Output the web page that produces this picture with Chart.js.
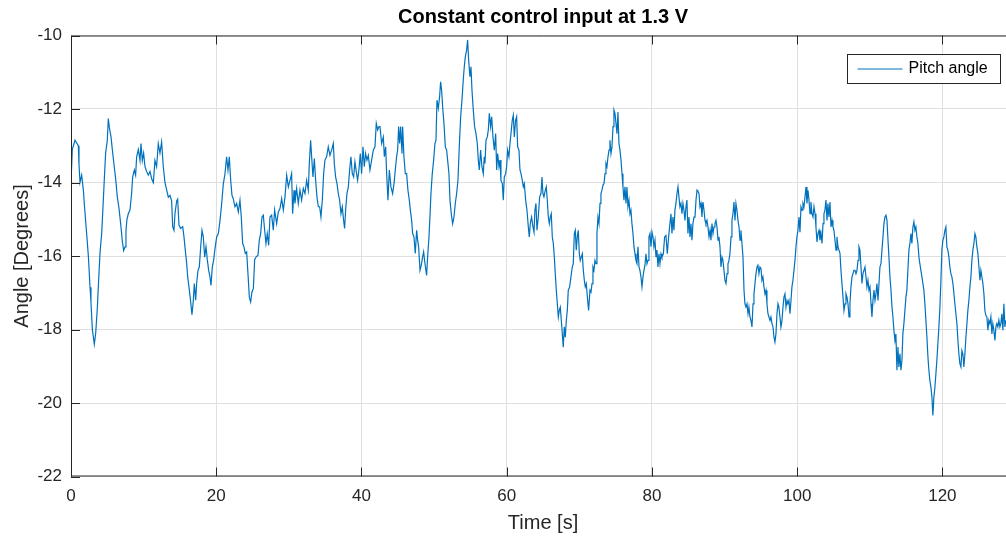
<!DOCTYPE html>
<html>
<head>
<meta charset="utf-8">
<script src="https://cdn.jsdelivr.net/npm/chart.js@4.4.1/dist/chart.umd.min.js"></script>
<style>
  html, body { margin: 0; padding: 0; overflow: hidden; background: #ffffff; }
  #wrap { position: absolute; left: 0; top: 0; width: 1030px; height: 543px; }
</style>
</head>
<body>
<div id="wrap"><canvas id="chart" width="1030" height="543"></canvas></div>
<script>
// Pitch angle log, constant 1.3 V control input
const timeS = [
  0.0,0.18,0.55,1.01,1.1,1.24,1.47,1.7,1.84,2.16,
  2.39,2.62,2.75,2.94,3.21,3.4,3.63,3.76,4.0,4.22,
  4.36,4.59,4.77,5.0,5.14,5.28,5.51,5.69,5.97,6.15,
  6.38,6.61,6.88,7.07,7.25,7.44,7.57,7.71,7.89,8.12,
  8.35,8.49,8.72,8.9,9.04,9.27,9.5,9.64,9.82,10.0,
  10.19,10.42,10.65,10.88,11.11,11.34,11.56,11.79,12.02,12.25,
  12.48,12.71,12.94,13.17,13.4,
  13.63,13.86,14.0,14.18,14.32,14.55,14.69,14.87,15.1,15.38,
  15.56,15.74,15.93,16.07,16.3,16.48,16.66,16.85,16.98,17.17,
  17.3,17.49,17.67,17.86,18.04,18.22,18.41,18.59,18.77,18.96,
  19.14,19.28,19.46,19.65,19.83,20.06,20.29,20.52,20.75,20.98,
  21.21,21.43,21.62,21.8,21.99,22.17,22.35,22.58,22.81,23.04,
  23.27,23.45,23.64,23.82,24.0,24.19,24.37,24.56,24.74,24.92,
  25.11,25.29,25.47,25.75,25.93,26.12,26.3,26.48,26.67,26.85,
  27.03,27.22,27.4,27.63,27.86,28.04,
  28.32,28.55,28.78,29.01,29.24,29.47,29.70,29.93,30.16,30.38,
  30.52,30.71,30.84,31.07,31.3,31.53,31.76,31.99,32.22,32.45,
  32.68,32.82,33.0,33.14,33.32,33.51,33.69,33.87,34.06,34.24,
  34.42,34.61,34.79,34.97,35.2,35.43,35.66,35.89,36.12,36.26,
  36.44,36.63,36.81,36.99,37.18,37.36,37.54,37.68,37.82,38.0,
  38.19,38.37,38.55,38.74,38.92,39.1,39.29,39.47,39.65,39.84,
  40.02,40.21,40.39,40.57,40.76,40.94,41.17,41.4,41.63,41.86,
  42.04,42.23,42.41,
  42.55,42.78,43.01,43.15,43.33,43.47,43.65,43.84,44.06,44.29,
  44.48,44.66,44.84,44.98,45.12,45.26,45.4,45.58,45.67,45.85,
  46.04,46.22,46.4,46.59,46.73,46.91,47.05,47.23,47.41,47.6,
  47.74,47.87,48.06,48.24,48.42,48.56,48.75,48.97,49.11,49.3,
  49.43,49.57,49.75,49.94,50.12,50.26,50.4,50.58,50.76,50.9,
  51.04,51.18,51.36,51.55,51.73,51.91,52.05,52.19,52.37,52.55,
  52.74,52.92,53.11,53.29,53.47,53.66,53.84,54.02,54.16,54.3,
  54.48,54.62,54.76,54.94,55.08,55.22,55.4,55.58,55.77,55.95,
  56.09,56.23,56.41,56.59,56.78,56.91,
  57.01,57.15,57.33,57.47,57.61,57.79,57.93,58.11,58.3,58.48,
  58.62,58.75,58.94,59.08,59.21,59.4,59.53,59.67,59.86,59.99,
  60.13,60.31,60.45,60.59,60.77,60.91,61.05,61.23,61.37,61.51,
  61.69,61.83,61.97,62.15,62.29,62.43,62.61,62.79,62.98,63.11,
  63.25,63.43,63.62,63.76,63.89,64.03,64.17,64.35,64.54,64.72,
  64.86,64.99,65.13,65.32,65.45,65.59,65.73,65.87,66.0,66.14,
  66.28,66.42,66.56,66.69,66.83,66.97,67.11,67.24,67.38,67.52,
  67.66,67.79,67.93,68.07,68.21,68.35,68.48,68.67,68.85,69.03,
  69.17,69.31,69.45,69.58,69.72,69.86,70.0,70.13,70.27,70.41,
  70.55,70.69,70.82,70.96,71.15,71.28,
  71.47,71.61,71.75,71.88,72.02,72.16,72.3,72.43,72.57,72.71,
  72.85,72.98,73.12,73.26,73.4,73.54,73.67,73.81,73.95,74.09,
  74.22,74.36,74.5,74.64,74.77,74.91,75.05,75.19,75.32,75.46,
  75.6,75.74,75.88,76.01,76.15,76.29,76.43,76.56,76.7,76.84,
  76.98,77.11,77.25,77.39,77.53,77.67,77.8,77.94,78.08,78.22,
  78.35,78.49,78.63,78.77,78.9,79.04,79.18,79.32,79.46,79.59,
  79.73,79.87,80.01,80.14,80.28,80.42,80.56,80.69,80.83,80.97,
  81.11,81.25,81.38,81.57,81.75,81.93,82.12,82.3,82.48,82.62,
  82.76,82.9,83.03,83.17,83.31,83.45,83.59,83.72,83.86,84.0,
  84.14,84.27,84.41,84.55,84.69,84.82,84.96,85.1,85.24,85.38,
  85.51,85.65,85.79,
  85.93,86.07,86.21,86.34,86.48,86.62,86.76,86.89,87.03,87.17,
  87.31,87.44,87.58,87.72,87.86,88.0,88.13,88.27,88.41,88.55,
  88.68,88.82,88.96,89.1,89.23,89.37,89.51,89.65,89.78,89.92,
  90.06,90.2,90.34,90.47,90.61,90.75,90.89,91.02,91.16,91.3,
  91.44,91.57,91.71,91.85,91.99,92.13,92.26,92.4,92.54,92.68,
  92.81,92.95,93.09,93.23,93.36,93.5,93.64,93.78,93.92,94.05,
  94.19,94.33,94.47,94.6,94.74,94.88,95.02,95.15,95.29,95.43,
  95.57,95.71,95.84,95.98,96.12,96.26,96.39,96.53,96.67,96.81,
  96.94,97.08,97.22,97.36,97.49,97.63,97.77,97.91,98.05,98.18,
  98.32,98.46,98.6,98.73,98.87,99.01,99.15,99.28,99.42,99.56,
  99.7,99.84,99.97,100.11,100.25,
  100.39,100.53,100.67,100.8,100.94,101.08,101.22,101.35,101.49,101.63,
  101.77,101.9,102.04,102.18,102.32,102.46,102.59,102.73,102.87,103.01,
  103.14,103.28,103.42,103.56,103.69,103.83,103.97,104.11,104.24,104.38,
  104.52,104.66,104.8,104.93,105.07,105.21,105.35,105.48,105.62,105.76,
  105.9,106.03,106.17,106.31,106.45,106.59,106.72,106.86,107.0,107.14,
  107.27,107.41,107.55,107.69,107.82,107.96,108.1,108.24,108.38,108.51,
  108.65,108.79,108.93,109.06,109.2,109.34,109.48,109.61,109.75,109.89,
  110.03,110.17,110.3,110.44,110.58,110.72,110.85,110.99,111.13,111.27,
  111.4,111.54,111.68,111.82,111.95,112.09,112.23,112.37,112.51,112.64,
  112.78,112.92,113.06,113.19,113.33,113.47,
  113.6,113.74,113.88,114.01,114.15,114.29,114.43,114.56,114.7,114.84,
  114.98,115.11,115.25,115.39,115.53,115.67,115.8,115.94,116.08,116.22,
  116.35,116.49,116.63,116.77,116.9,117.04,117.18,117.32,117.45,117.59,
  117.73,117.87,118.01,118.14,118.28,118.42,118.56,118.69,118.83,118.97,
  119.11,119.24,119.38,119.52,119.66,119.8,119.93,120.07,120.21,120.35,
  120.48,120.62,120.76,120.9,121.03,121.17,121.31,121.45,121.59,121.72,
  121.86,122.0,122.14,122.27,122.41,122.55,122.69,122.82,122.96,123.1,
  123.24,123.38,123.51,123.65,123.79,123.93,124.06,124.2,124.34,124.48,
  124.61,124.75,124.89,125.03,125.17,125.3,125.44,125.58,125.72,125.85,
  125.99,126.13,126.27,126.4,126.54,126.68,126.82,126.95,127.09,127.23,
  127.37,127.5,127.64,127.78,127.92,128.06,128.19,128.33,128.47,128.61,
  128.74
];

const pitchDeg = [
  -14.0,-13.1,-12.85,-13.0,-13.5,-14.0,-13.8,-14.2,-14.6,-15.4,
  -16.0,-16.85,-17.25,-18.0,-18.4,-18.1,-17.4,-16.85,-15.9,-15.4,
  -14.85,-13.9,-13.2,-12.85,-12.26,-12.5,-12.76,-13.1,-13.6,-13.9,
  -14.4,-14.7,-15.2,-15.6,-15.85,-15.75,-15.3,-15.0,-14.85,-14.75,
  -14.3,-13.85,-13.66,-13.8,-13.3,-13.1,-13.4,-12.94,-13.4,-13.2,
  -13.57,-13.7,-13.8,-13.7,-13.9,-14.0,-13.4,-13.57,-12.94,-13.2,
  -12.9,-13.57,-14.0,-14.2,-14.4,
  -14.35,-14.5,-15.2,-15.3,-14.85,-14.5,-14.45,-15.16,-15.25,-15.2,
  -15.48,-15.84,-16.2,-16.57,-16.93,-17.25,-17.6,-17.2,-16.75,-17.2,
  -16.75,-16.39,-16.3,-15.75,-15.3,-15.48,-16.03,-15.75,-16.1,-16.39,
  -16.57,-16.8,-16.3,-16.1,-15.8,-15.48,-15.39,-15.03,-14.57,-14.03,
  -13.76,-13.3,-13.66,-13.3,-13.94,-14.35,-14.44,-14.66,-14.57,-14.8,
  -14.48,-14.94,-15.66,-15.75,-15.93,-15.89,-16.48,-17.12,-17.25,-16.98,
  -16.89,-16.1,-16.03,-15.98,-15.57,-15.39,-14.94,-14.89,-15.3,-15.66,
  -15.39,-15.71,-14.94,-14.89,-15.3,-14.75,
  -15.12,-14.8,-14.71,-14.44,-14.75,-14.39,-13.8,-14.12,-13.94,-13.76,
  -14.85,-14.21,-14.57,-14.16,-14.57,-14.21,-14.48,-14.16,-14.3,-13.94,
  -14.21,-13.48,-12.85,-13.3,-13.85,-13.35,-13.94,-14.39,-14.66,-14.66,
  -14.94,-14.48,-13.76,-13.39,-13.3,-13.03,-13.26,-13.12,-12.94,-13.48,
  -13.85,-14.03,-14.3,-14.48,-14.85,-14.66,-15.03,-15.25,-14.75,-14.3,
  -14.12,-13.66,-13.3,-13.76,-13.85,-13.44,-13.71,-13.94,-13.66,-13.21,
  -13.76,-13.03,-13.57,-13.21,-13.39,-13.26,-13.66,-13.39,-13.12,-13.03,
  -12.39,-12.57,-12.48,
  -12.48,-12.94,-12.76,-13.3,-13.03,-13.76,-14.48,-13.66,-14.12,-14.3,
  -14.03,-13.66,-13.3,-13.12,-12.48,-12.94,-12.48,-13.21,-12.48,-13.3,
  -13.76,-13.76,-14.21,-14.48,-14.75,-15.03,-15.39,-15.48,-15.93,-15.3,
  -15.57,-15.75,-16.39,-16.25,-16.03,-15.89,-16.21,-16.53,-16.03,-15.48,
  -14.94,-14.3,-13.76,-13.39,-12.94,-12.85,-11.76,-11.98,-11.67,-11.26,
  -11.49,-11.94,-12.39,-13.03,-13.12,-13.48,-13.76,-14.48,-14.85,-15.12,
  -14.94,-14.57,-14.3,-13.94,-13.03,-12.21,-11.76,-11.21,-10.85,-10.58,
  -10.4,-10.12,-10.67,-11.12,-10.85,-11.49,-12.03,-12.48,-12.67,-12.94,
  -13.39,-13.66,-13.12,-13.57,-13.76,-13.3,
  -13.48,-12.85,-12.76,-12.57,-12.12,-12.48,-12.21,-12.76,-13.12,-12.67,
  -13.66,-13.21,-13.57,-13.39,-13.94,-14.03,-14.48,-13.85,-13.76,-13.57,
  -13.12,-13.3,-12.94,-12.67,-12.3,-12.17,-12.76,-12.3,-12.21,-13.03,
  -13.12,-13.66,-13.76,-13.94,-14.12,-14.03,-14.48,-14.75,-15.21,-15.48,
  -15.12,-14.94,-15.21,-15.35,-14.75,-14.57,-15.3,-14.94,-14.39,-14.3,
  -13.85,-14.3,-14.39,-14.21,-14.12,-14.48,-14.94,-15.12,-14.94,-14.85,
  -15.48,-15.66,-16.03,-16.48,-16.93,-17.3,-17.66,-17.48,-17.39,-17.75,
  -18.12,-18.48,-17.93,-18.21,-17.75,-17.48,-16.93,-16.84,-16.57,-16.3,
  -16.21,-15.39,-15.3,-15.84,-15.48,-15.3,-15.94,-16.12,-16.03,-15.94,
  -16.39,-16.66,-16.84,-16.75,-17.21,-17.48,
  -16.93,-16.98,-16.75,-16.3,-16.39,-16.12,-16.21,-15.39,-14.94,-15.12,
  -14.57,-14.3,-14.21,-14.07,-14.03,-13.76,-13.48,-13.57,-13.3,-13.12,
  -12.85,-13.21,-13.03,-12.48,-12.03,-12.12,-12.39,-12.67,-12.08,-12.94,
  -13.12,-13.39,-13.76,-14.12,-14.48,-14.12,-14.57,-14.12,-14.66,-14.48,
  -14.85,-14.75,-15.12,-15.39,-15.75,-15.94,-16.12,-16.21,-15.75,-16.3,
  -16.39,-16.57,-16.84,-16.57,-16.39,-16.25,-15.94,-16.21,-16.12,-15.48,
  -15.39,-15.75,-15.35,-15.48,-15.75,-15.57,-16.03,-15.84,-16.3,-15.94,
  -16.21,-15.94,-16.03,-15.94,-15.48,-15.44,-15.94,-15.48,-15.12,-14.85,
  -15.39,-14.94,-15.3,-14.75,-14.57,-14.3,-14.12,-14.39,-14.66,-14.57,
  -14.85,-14.57,-14.75,-15.03,-14.66,-14.48,-15.39,-14.94,-15.48,-15.12,
  -15.57,-15.12,-14.94,
  -14.94,-14.48,-14.21,-14.25,-14.3,-14.66,-14.57,-14.94,-14.53,-14.75,
  -15.03,-15.12,-15.03,-15.21,-15.48,-15.3,-15.57,-15.12,-15.39,-15.21,
  -15.12,-15.03,-15.21,-15.57,-15.48,-15.75,-16.3,-16.03,-16.12,-16.39,
  -16.66,-16.75,-16.48,-16.21,-16.12,-15.93,-15.48,-15.03,-14.85,-14.53,
  -15.03,-14.57,-14.75,-15.03,-15.21,-15.57,-15.3,-15.66,-16.03,-16.93,
  -17.3,-17.39,-17.3,-17.57,-17.39,-17.66,-17.75,-17.93,-17.3,-17.03,
  -16.75,-16.48,-16.3,-16.25,-16.48,-16.3,-16.34,-16.66,-16.57,-16.84,
  -17.03,-16.93,-17.3,-17.57,-17.66,-17.75,-17.66,-17.84,-17.93,-18.21,
  -18.34,-18.12,-17.57,-17.3,-17.39,-17.66,-17.93,-17.75,-17.39,-17.12,
  -17.03,-17.39,-17.21,-17.3,-17.21,-17.57,-17.21,-16.84,-16.66,-16.39,
  -16.12,-15.75,-15.48,-15.3,-14.94,
  -15.35,-14.66,-14.75,-14.57,-14.66,-14.39,-14.12,-14.57,-14.21,-14.48,
  -14.85,-14.53,-14.85,-14.94,-14.66,-14.85,-15.21,-15.62,-15.39,-15.3,
  -15.57,-15.39,-15.66,-15.12,-14.85,-14.75,-14.48,-15.03,-14.57,-14.94,
  -14.53,-15.21,-15.03,-15.21,-15.3,-15.57,-15.84,-15.48,-15.75,-15.84,
  -15.93,-16.39,-16.75,-17.12,-17.48,-17.3,-17.03,-17.12,-17.3,-17.66,
  -17.3,-16.84,-16.57,-16.48,-16.39,-16.39,-16.48,-16.39,-16.12,-15.75,
  -15.84,-16.3,-16.75,-16.48,-16.39,-16.3,-16.57,-16.84,-16.66,-16.93,
  -16.84,-17.3,-17.66,-17.21,-16.93,-17.21,-17.03,-16.75,-17.21,-16.75,
  -16.3,-16.21,-15.84,-15.48,-15.12,-14.94,-14.89,-15.03,-15.57,-16.03,
  -16.57,-16.93,-17.39,-17.66,-18.03,-18.3,
  -18.12,-19.11,-18.48,-19.02,-18.66,-19.11,-18.84,-18.12,-17.84,-17.48,
  -17.12,-16.93,-16.39,-15.84,-15.66,-15.39,-15.66,-15.21,-15.07,-15.3,
  -15.21,-15.48,-15.66,-16.03,-16.21,-16.39,-16.57,-16.75,-16.93,-17.3,
  -17.75,-18.21,-18.75,-19.11,-19.39,-19.57,-19.84,-20.34,-19.84,-19.57,
  -19.2,-18.84,-18.39,-17.93,-17.39,-16.66,-15.84,-15.57,-15.48,-15.3,
  -15.21,-15.75,-15.84,-16.03,-16.3,-16.48,-16.57,-16.75,-17.03,-17.3,
  -17.57,-17.84,-18.3,-18.66,-18.93,-19.02,-18.57,-18.66,-19.02,-18.66,
  -18.21,-17.84,-17.48,-17.21,-16.84,-16.57,-16.12,-15.84,-15.66,-15.39,
  -15.48,-15.75,-15.93,-16.3,-16.66,-16.39,-16.57,-16.75,-17.03,-17.48,
  -17.62,-17.66,-18.02,-17.75,-17.84,-17.66,-18.12,-17.84,-18.02,-18.3,
  -17.93,-17.84,-17.93,-17.75,-17.93,-17.84,-17.57,-18.02,-17.3,-17.93,
  -17.75
];

const xTickValues = [0, 20, 40, 60, 80, 100, 120];
const yTickValues = [-22, -20, -18, -16, -14, -12, -10];
const chartTitle = 'Constant control input at 1.3 V';
const xAxisTitle = 'Time [s]';
const yAxisTitle = 'Angle [Degrees]';
const seriesName = 'Pitch angle';

const FONT = '"Liberation Sans", Arial, Helvetica, sans-serif';
const INK = '#262626';
const LINE_BLUE = '#0072BD';
const TICK_LEN = 9;

const points = timeS.map((t, i) => ({ x: t, y: pitchDeg[i] }));

// Axes box with inward tick marks, drawn above the trace
const boxPlugin = {
  id: 'axesBox',
  afterDatasetsDraw(chart) {
    const { ctx, chartArea: a, scales } = chart;
    ctx.save();
    ctx.strokeStyle = INK;
    ctx.lineWidth = 1;
    ctx.beginPath();
    ctx.moveTo(a.left + 0.5, a.bottom);
    ctx.lineTo(a.left + 0.5, a.top + 0.5);
    ctx.lineTo(a.right, a.top + 0.5);
    ctx.moveTo(a.left, a.bottom - 0.5);
    ctx.lineTo(a.right, a.bottom - 0.5);
    scales.x.ticks.forEach(tk => {
      const px = Math.round(scales.x.getPixelForValue(tk.value)) + 0.5;
      ctx.moveTo(px, a.bottom);
      ctx.lineTo(px, a.bottom - TICK_LEN);
      ctx.moveTo(px, a.top);
      ctx.lineTo(px, a.top + TICK_LEN);
    });
    scales.y.ticks.forEach(tk => {
      const py = Math.round(scales.y.getPixelForValue(tk.value)) + 0.5;
      ctx.moveTo(a.left, py);
      ctx.lineTo(a.left + TICK_LEN, py);
    });
    ctx.stroke();
    ctx.restore();
  }
};

// Bold heading centred over the axes
const headingPlugin = {
  id: 'heading',
  afterDraw(chart) {
    const { ctx, chartArea: a } = chart;
    ctx.save();
    ctx.font = 'bold 20px ' + FONT;
    ctx.fillStyle = '#000000';
    ctx.textAlign = 'center';
    ctx.textBaseline = 'middle';
    ctx.fillText(chartTitle, (a.left + a.right) / 2, 17);
    ctx.restore();
  }
};

// Boxed legend in the upper right corner of the axes
const legendBoxPlugin = {
  id: 'legendBox',
  afterDraw(chart) {
    const { ctx, chartArea: a } = chart;
    const ds = chart.data.datasets[0];
    const w = 153, h = 29;
    const x0 = Math.round(a.right - 15 - w) + 0.5;
    const y0 = Math.round(a.top + 18) + 0.5;
    ctx.save();
    ctx.fillStyle = '#ffffff';
    ctx.fillRect(x0, y0, w, h);
    ctx.strokeStyle = INK;
    ctx.lineWidth = 1;
    ctx.strokeRect(x0, y0, w, h);
    const cy = y0 + h / 2;
    ctx.strokeStyle = ds.borderColor;
    ctx.lineWidth = ds.borderWidth;
    ctx.beginPath();
    ctx.moveTo(x0 + 10, cy);
    ctx.lineTo(x0 + 55, cy);
    ctx.stroke();
    ctx.font = '16px ' + FONT;
    ctx.fillStyle = '#000000';
    ctx.textAlign = 'left';
    ctx.textBaseline = 'middle';
    ctx.fillText(ds.label, x0 + 61, cy);
    ctx.restore();
  }
};

new Chart(document.getElementById('chart'), {
  type: 'line',
  data: {
    datasets: [{
      label: seriesName,
      data: points,
      borderColor: LINE_BLUE,
      borderWidth: 1.2,
      pointRadius: 0,
      tension: 0,
      fill: false
    }]
  },
  options: {
    responsive: false,
    animation: false,
    devicePixelRatio: 1,
    layout: { padding: { left: 0, right: 15, top: 35.5, bottom: 0 } },
    plugins: {
      legend: { display: false },
      title: { display: false },
      tooltip: { enabled: false }
    },
    scales: {
      x: {
        type: 'linear',
        min: 0,
        max: 130,
        afterFit(s) { s.height = 66.5; },
        afterBuildTicks(s) { s.ticks = xTickValues.map(v => ({ value: v })); },
        grid: { color: '#dfdfdf', lineWidth: 1, drawTicks: false },
        border: { display: false },
        ticks: { padding: 10, color: INK, maxRotation: 0, font: { family: FONT, size: 17 } },
        title: { display: true, text: xAxisTitle, color: INK, font: { family: FONT, size: 20 }, padding: { top: 0, bottom: 8 } }
      },
      y: {
        type: 'linear',
        min: -22,
        max: -10,
        afterFit(s) { s.width = 71; },
        afterBuildTicks(s) { s.ticks = yTickValues.map(v => ({ value: v })); },
        grid: { color: '#dfdfdf', lineWidth: 1, drawTicks: false },
        border: { display: false },
        ticks: { padding: 9, color: INK, font: { family: FONT, size: 17 } },
        title: { display: true, text: yAxisTitle, color: INK, font: { family: FONT, size: 20 }, padding: { top: 10, bottom: 0 } }
      }
    }
  },
  plugins: [boxPlugin, headingPlugin, legendBoxPlugin]
});
</script>
</body>
</html>
